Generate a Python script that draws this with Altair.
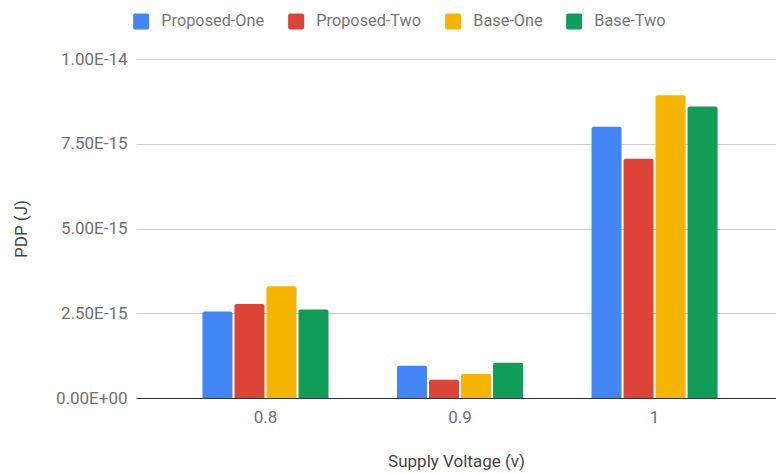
import altair as alt
import pandas as pd

# Supply voltages (x categories) and the four designs compared
voltages = ["0.8", "0.9", "1"]
series = ["Proposed-One", "Proposed-Two", "Base-One", "Base-Two"]
colors = ["#4285F4", "#DB4437", "#F4B400", "#0F9D58"]

# Power-delay product in joules, one list per design (order follows `voltages`)
proposed_one = [2.55e-15, 0.95e-15, 8.00e-15]
proposed_two = [2.77e-15, 0.54e-15, 7.06e-15]
base_one = [3.30e-15, 0.71e-15, 8.93e-15]
base_two = [2.61e-15, 1.04e-15, 8.60e-15]

y_ticks = [0, 2.5e-15, 5e-15, 7.5e-15, 1e-14]

rows = []
for name, values in zip(series, [proposed_one, proposed_two, base_one, base_two]):
    for v, pdp in zip(voltages, values):
        rows.append({"voltage": v, "design": name, "pdp": pdp})
df = pd.DataFrame(rows)

FONT = "Roboto"

# Square legend swatch with slightly rounded corners (unit [-1, 1] space)
ROUNDED_SQUARE = (
    "M -0.75 -1 L 0.75 -1 Q 1 -1 1 -0.75 L 1 0.75 Q 1 1 0.75 1 "
    "L -0.75 1 Q -1 1 -1 0.75 L -1 -0.75 Q -1 -1 -0.75 -1 Z"
)

chart = (
    alt.Chart(df)
    .mark_bar(cornerRadiusTopLeft=2, cornerRadiusTopRight=2)
    .encode(
        x=alt.X(
            "voltage:N",
            sort=voltages,
            scale=alt.Scale(paddingInner=0.023, paddingOuter=0.1565, align=0.566),
            axis=alt.Axis(
                title="Supply Voltage (v)",
                labelAngle=0,
                ticks=False,
                labelPadding=11,
                titlePadding=28,
                domainColor="#333333",
                domainWidth=1,
                zindex=1,
            ),
        ),
        xOffset=alt.XOffset(
            "design:N",
            sort=series,
            scale=alt.Scale(paddingInner=0.0625, paddingOuter=1),
        ),
        y=alt.Y(
            "pdp:Q",
            stack=None,
            scale=alt.Scale(domain=[0, 1e-14], nice=False, zero=True),
            axis=alt.Axis(
                title="PDP (J)",
                values=y_ticks,
                labelExpr="datum.value == 0 ? '0.00E+00' : upper(format(datum.value, '.2e'))",
                ticks=False,
                domain=False,
                labelPadding=9,
                titlePadding=25,
                gridColor="#cccccc",
                gridWidth=1,
            ),
        ),
        color=alt.Color(
            "design:N",
            sort=series,
            scale=alt.Scale(domain=series, range=colors),
            legend=alt.Legend(
                title=None,
                orient="none",
                direction="horizontal",
                legendX=-3,
                legendY=-46,
                symbolType=ROUNDED_SQUARE,
                symbolSize=256,
                symbolStrokeWidth=0,
                labelOffset=12,
                columnPadding=23,
                padding=0,
            ),
        ),
    )
    .properties(
        width=640,
        height=339,
        background="white",
        padding={"left": 136, "top": 59, "right": 0, "bottom": 75},
        autosize=alt.AutoSizeParams(type="none"),
    )
    .configure_view(stroke=None)
    .configure_axis(
        labelFont=FONT,
        labelFontSize=17,
        labelColor="#707070",
        titleFont=FONT,
        titleFontSize=17,
        titleColor="#444444",
        titleFontWeight="normal",
    )
    .configure_legend(
        labelFont=FONT,
        labelFontSize=16.3,
        labelColor="#757575",
    )
)

chart.save("out.html", embed_options={"renderer": "svg", "actions": False})
